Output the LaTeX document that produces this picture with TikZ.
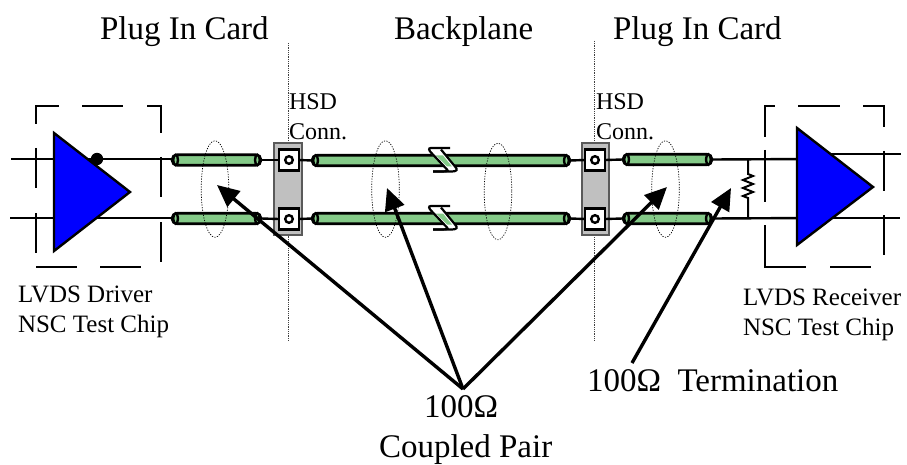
\documentclass[tikz,border=0pt]{standalone}
\usepackage{fontspec}
\setmainfont{Liberation Serif}
\usetikzlibrary{arrows.meta}
\definecolor{tubegreen}{HTML}{84CA88}
\definecolor{conngray}{HTML}{C0C0C0}
\definecolor{connedge}{HTML}{5A5A5A}
\newcommand{\bigfs}{\fontsize{33}{33}\selectfont}
\newcommand{\midfs}{\fontsize{25}{25}\selectfont}
\newcommand{\smallfs}{\fontsize{24}{24}\selectfont}
\newcommand{\tubeat}[4]{%
  \node[tubebox,minimum width={#3-#2},anchor=west] (#1) at (#2,#4) {};
  \draw[wire,fill=tubegreen] (#2+3.6,#4) ellipse [x radius=2.4,y radius=5.2];
  \draw[wire,fill=tubegreen] (#3-3.6,#4) ellipse [x radius=2.4,y radius=5.2];
}
\newcommand{\breakat}[1]{%
  \begin{scope}[shift={(0,#1)}]
    \fill[white] (429,-9) -- (441,-11) -- (457,8) -- (448,11) -- cycle;
    \fill[tubegreen] (436,-5) -- (443,-5) -- (452,6) -- (447,6) -- cycle;
    \draw[brk] (450,-12.5) -- (431,-12.5) .. controls (428,-12.5) and (429,-10) .. (431,-8) -- (447,9) .. controls (449,11) and (447,11) .. (433,11);
    \draw[brk] (441,-11) -- (455,6) .. controls (458,9) and (457,11) .. (452,11) -- (433,11);
  \end{scope}
}
\tikzset{
  x=1pt,y=-1pt,
  wire/.style={draw=black,line width=2.4pt},
  dashseg/.style={draw=black,line width=2.6pt,line cap=butt},
  tubebox/.style={draw=black,line width=2.6pt,fill=tubegreen,rounded corners=5pt,minimum height=10.5pt,inner sep=0pt,outer sep=0pt},
  brk/.style={draw=black,line width=2.2pt},
  gate/.style={draw=black,line width=2.4pt,fill=blue,line join=miter},
  connbody/.style={draw=connedge,line width=1.6pt,fill=conngray},
  pinbox/.style={draw=black,line width=2.6pt,fill=white,minimum width=20pt,minimum height=21pt,inner sep=0pt,outer sep=0pt},
  pinhole/.style={draw=black,line width=2.4pt,fill=white},
  halo/.style={draw=black,line width=0.7pt,dash pattern=on 1.2pt off 1.4pt},
  cut/.style={draw=black!75,line width=0.8pt,densely dotted},
  pointer/.style={draw=black,line width=3.4pt,-{Triangle[length=22pt,width=20pt]}},
  lbl/.style={anchor=base west,inner sep=0pt,outer sep=0pt,text=black},
}
\begin{document}
\begin{tikzpicture}
\useasboundingbox (0,0) rectangle (907,465);
% card boundaries
\coordinate (cutAtop) at (288,43); \coordinate (cutAbot) at (288,341);
\coordinate (cutBtop) at (594,41); \coordinate (cutBbot) at (594,341);
\draw[cut] (cutAtop) -- (cutAbot);
\draw[cut] (cutBtop) -- (cutBbot);
% signal wires, left
\coordinate (inAt) at (11,159); \coordinate (inAb) at (10,218);
\coordinate (drvT) at (70,159); \coordinate (drvB) at (70,218);
\tubeat{t1}{172}{261}{160}
\tubeat{t2}{172}{261}{218.5}
\draw[wire] (inAt) -- (drvT) -- (t1.west |- drvT);
\draw[wire] (inAb) -- (drvB) -- (t2.west |- drvB);
% connectors
\draw[connbody] (274,143) rectangle (302,235);
\draw[connbody] (582,143) rectangle (609,235);
\node[pinbox] (p1) at (289,160) {};
\node[pinbox] (p2) at (289,219) {};
\node[pinbox] (p3) at (595,160) {};
\node[pinbox] (p4) at (595,219) {};
\foreach \p in {p1,p2,p3,p4} \draw[pinhole] (\p) circle [radius=3.8];
% backplane tubes
\tubeat{t3}{312}{570}{160.5}
\tubeat{t4}{312}{570}{218.5}
\tubeat{t5}{623}{712}{159.5}
\tubeat{t6}{623}{712}{218.5}
\breakat{160.5}
\breakat{218.5}
\draw[wire] (t1.east) -- (p1.west);
\draw[wire] (t2.east) -- (p2.west);
\draw[wire] (p1.east) -- (t3.west);
\draw[wire] (p2.east) -- (t4.west);
\draw[wire] (t3.east) -- (p3.west);
\draw[wire] (t4.east) -- (p4.west);
\draw[wire] (p3.east) -- (t5.west);
\draw[wire] (p4.east) -- (t6.west);
% receiver wires and termination
\coordinate (rxT) at (810,159); \coordinate (rxB) at (810,218);
\draw[wire] (t5.east) -- (rxT);
\draw[wire] (t6.east) -- (rxB);
\coordinate (rT) at (748,159); \coordinate (rB) at (748,218);
\draw[draw=black,line width=2pt,line join=miter] (rT) -- (748,174) -- (753,176) -- (743,180) -- (753,184) -- (743,188) -- (753,192) -- (743,196) -- (748,198) -- (rB);
\coordinate (outAt) at (820,154); \coordinate (outAb) at (820,218);
\coordinate (outEt) at (901,154); \coordinate (outEb) at (900,218);
\draw[wire] (outAt) -- (outEt);
\draw[wire] (outAb) -- (outEb);
% triangles
\draw[gate] (54,133) -- (130,192) -- (54,251) -- cycle;
\draw[gate] (797,128) -- (873,187) -- (797,245) -- cycle;
\fill[black] (97,159) circle [radius=6.2];
% dashed package, left
\draw[dashseg] (36,124) -- (36,106) -- (59,106);
\draw[dashseg] (82,106) -- (123,106);
\draw[dashseg] (147,106) -- (161,106) -- (161,133);
\draw[dashseg] (161,157) -- (161,197);
\draw[dashseg] (161,222) -- (161,262);
\draw[dashseg] (36,148) -- (36,188);
\draw[dashseg] (36,213) -- (36,253);
\draw[dashseg] (36,267) -- (77,267);
\draw[dashseg] (100,267) -- (141,267);
% dashed package, right
\draw[dashseg] (765,137) -- (765,106) -- (775,106);
\draw[dashseg] (798,106) -- (840,106);
\draw[dashseg] (863,106) -- (884,106) -- (884,127);
\draw[dashseg] (884,151) -- (884,191);
\draw[dashseg] (884,215) -- (884,255);
\draw[dashseg] (765,150) -- (765,202);
\draw[dashseg] (765,225) -- (765,267) -- (806,267);
\draw[dashseg] (830,267) -- (871,267);
% coupling halos
\foreach \cx/\cy in {215/189,385.5/189,498/191.5,665.5/189}
  \draw[halo] (\cx,\cy) ellipse [x radius=13.8,y radius=48.3];
% labels
\node[lbl] (hdA) at (100,40) {\bigfs Plug In Card};
\node[lbl] (hdB) at (394,40) {\bigfs Backplane};
\node[lbl] (hdC) at (613,40) {\bigfs Plug In Card};
\node[lbl] (hsdA) at (289,110) {\smallfs HSD};
\node[lbl] (hsdAb) at (289,140) {\smallfs Conn.};
\node[lbl] (hsdB) at (596,110) {\smallfs HSD};
\node[lbl] (hsdBb) at (596,140) {\smallfs Conn.};
\node[lbl] (drvA) at (18,302) {\midfs LVDS Driver};
\node[lbl] (drvC) at (18,332) {\midfs NSC Test Chip};
\node[lbl] (recA) at (743,305) {\midfs LVDS Receiver};
\node[lbl] (recC) at (743,335) {\midfs NSC Test Chip};
\node[lbl] (term) at (587,391) {\bigfs 100Ω\ \ Termination};
\node[lbl] (pairA) at (424,417) {\bigfs 100Ω};
\node[lbl] (pairB) at (379,457) {\bigfs Coupled Pair};
% pointers
\coordinate (hub) at (463,389);
\coordinate (tipA) at (217,185);
\coordinate (tipB) at (387,188);
\coordinate (tipC) at (667,187);
\coordinate (termTail) at (632,363);
\coordinate (termTip) at (731,188);
\draw[pointer] (hub) -- (tipA);
\draw[pointer] (hub) -- (tipB);
\draw[pointer] (hub) -- (tipC);
\draw[pointer] (termTail) -- (termTip);
\end{tikzpicture}
\end{document}
